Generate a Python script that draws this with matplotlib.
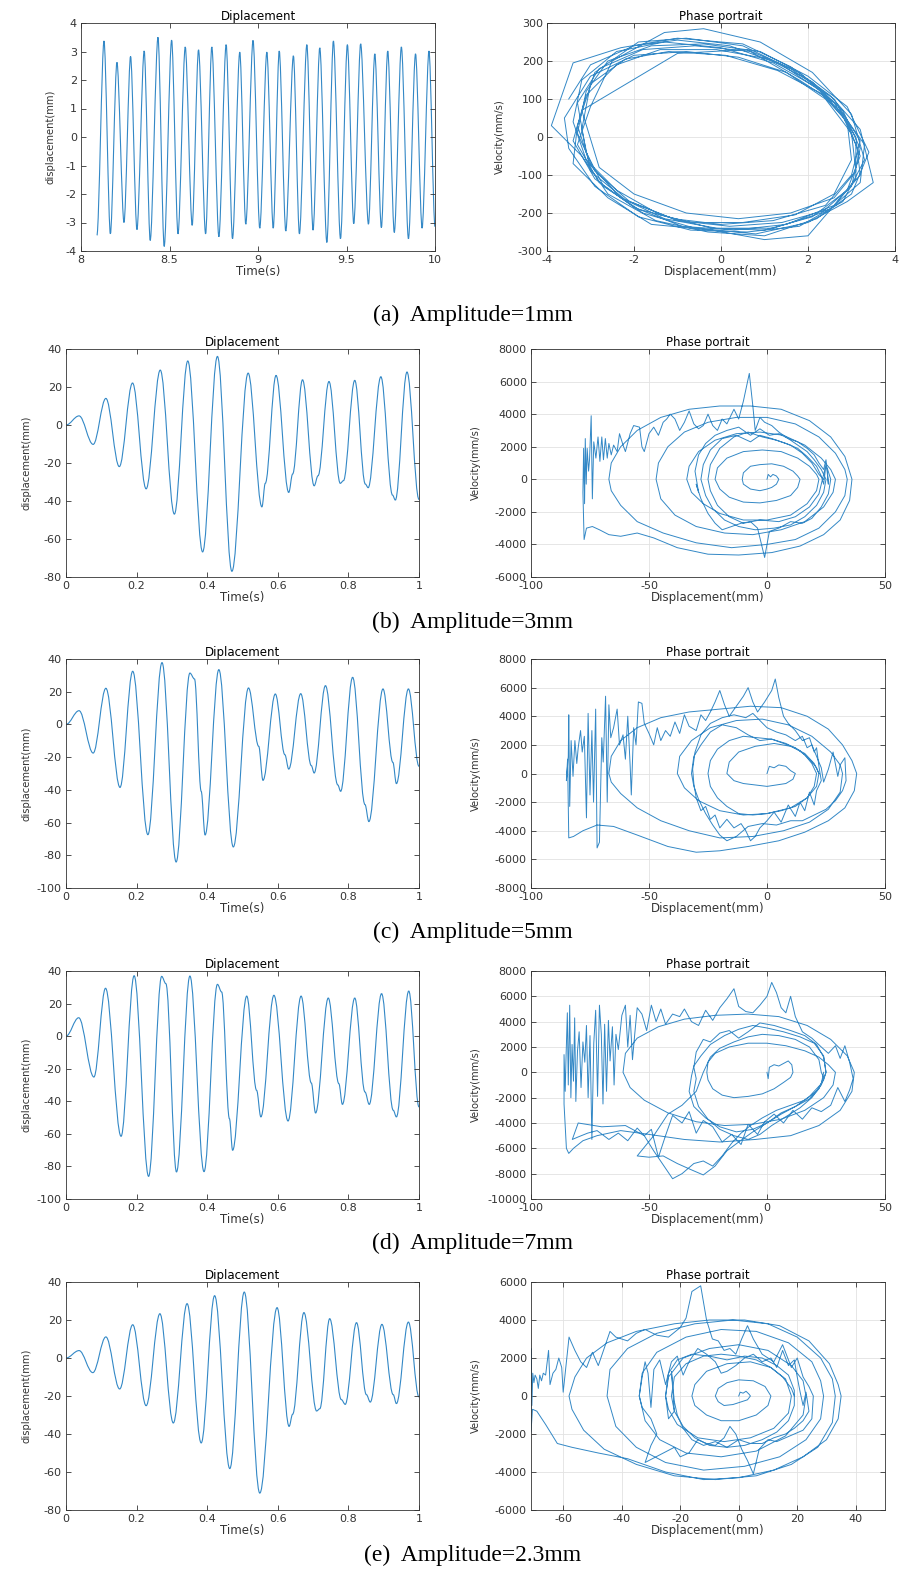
import numpy as np
import matplotlib
matplotlib.use('Agg')
import matplotlib.pyplot as plt
from matplotlib import ticker, font_manager
from matplotlib.font_manager import FontProperties
from matplotlib.path import Path
from matplotlib.patches import PathPatch

plt.rcParams['axes.unicode_minus'] = False

# ---- displacement time series: extrema (and shoulders) ----
a_t = [8.09, 8.13, 8.166, 8.203, 8.243, 8.28, 8.316, 8.357, 8.391, 8.435, 8.47, 8.512, 8.548,
       8.589, 8.628, 8.664, 8.704, 8.739, 8.779, 8.82, 8.856, 8.897, 8.931, 8.972, 9.01, 9.05,
       9.086, 9.12, 9.157, 9.2, 9.234, 9.276, 9.311, 9.349, 9.389, 9.426, 9.466, 9.505, 9.541,
       9.58, 9.624, 9.66, 9.697, 9.733, 9.77, 9.81, 9.85, 9.89, 9.927, 9.966, 10.0]
a_d = [-3.45, 3.37, -3.4, 2.62, -3.0, 2.83, -3.25, 3.02, -3.63, 3.5, -3.84, 3.4, -3.4,
       3.16, -3.1, 3.06, -3.4, 3.16, -3.5, 3.24, -3.57, 2.98, -3.06, 3.39, -3.2, 2.98,
       -3.2, 3.02, -3.3, 2.85, -3.4, 3.24, -3.27, 3.13, -3.7, 3.37, -3.57, 3.24, -3.04,
       3.27, -3.06, 2.92, -3.18, 3.02, -3.35, 3.16, -3.57, 2.92, -3.2, 3.02, -3.15]

b_t = [0.0, 0.037, 0.077, 0.113, 0.151, 0.1885, 0.227, 0.267, 0.307, 0.345, 0.387, 0.429,
       0.470, 0.516, 0.555, 0.5645, 0.595, 0.631, 0.642, 0.670, 0.703, 0.714, 0.745, 0.777,
       0.786, 0.818, 0.848, 0.856, 0.892, 0.925, 0.933, 0.966, 1.0]
b_d = [0.0, 4.8, -10.2, 14.0, -21.9, 22.1, -33.6, 28.9, -46.9, 33.7, -66.8, 36.1,
       -77.0, 27.3, -43.1, -30.7, 26.1, -35.5, -25.8, 23.8, -32.0, -26.7, 22.9, -30.7,
       -29.3, 23.5, -31.1, -33.0, 25.4, -36.9, -39.5, 27.9, -39.2]

c_t = [0.0, 0.037, 0.077, 0.113, 0.153, 0.189, 0.232, 0.272, 0.312, 0.351, 0.364, 0.383,
       0.394, 0.433, 0.474, 0.517, 0.546, 0.558, 0.593, 0.62, 0.631, 0.665, 0.695, 0.703,
       0.735, 0.77, 0.778, 0.812, 0.847, 0.858, 0.898, 0.926, 0.936, 0.970, 1.0]
c_d = [0.0, 8.4, -17.5, 22.1, -38.5, 32.5, -67.4, 37.8, -84.1, 31.4, 27.8, -40.9,
       -67.6, 33.5, -74.9, 22.3, -13.4, -34.2, 18.6, -18.5, -27.3, 18.8, -25.2, -29.7,
       23.7, -37.0, -40.9, 28.8, -49.0, -59.4, 21.7, -23.2, -36.2, 21.7, -25.6]

d_t = [0.0, 0.036, 0.079, 0.112, 0.156, 0.193, 0.234, 0.271, 0.283, 0.313, 0.351, 0.391,
       0.429, 0.441, 0.463, 0.472, 0.512, 0.54, 0.552, 0.589, 0.629, 0.666, 0.695, 0.707,
       0.743, 0.773, 0.783, 0.818, 0.847, 0.859, 0.894, 0.927, 0.936, 0.971, 1.0]
d_d = [0.0, 11.3, -25.1, 29.4, -61.5, 37.1, -86.1, 36.7, 32.2, -83.4, 36.9, -83.2,
       31.8, 27.1, -50.7, -70.1, 24.6, -33.3, -49.6, 25.1, -52.1, 24.6, -28.8, -47.2,
       23.4, -29.2, -41.9, 23.4, -34.3, -41.9, 26.1, -45.5, -49.6, 27.7, -43.5]

e_t = [0.0, 0.037, 0.076, 0.113, 0.152, 0.189, 0.227, 0.266, 0.304, 0.343, 0.383, 0.421,
       0.464, 0.505, 0.549, 0.598, 0.632, 0.642, 0.674, 0.710, 0.719, 0.747, 0.78, 0.791,
       0.823, 0.851, 0.862, 0.895, 0.927, 0.936, 0.970, 1.0]
e_d = [0.0, 3.9, -7.7, 11.1, -16.3, 17.5, -25.1, 23.3, -34.2, 28.6, -44.7, 32.8,
       -58.2, 34.7, -71.1, 26.5, -36.0, -29.6, 23.9, -27.9, -26.7, 20.7, -21.9, -24.4,
       18.6, -19.3, -23.2, 17.7, -19.3, -24.0, 18.9, -20.5]

# ---- phase portraits: (displacement mm, velocity mm/s) ----
pa = [(-3.5, 100), (-3.0, 190), (-2.0, 240), (-1.0, 255), (0.2, 240), (1.4, 190), (2.3, 120), (2.9, 40),
      (3.2, -50), (2.9, -140), (2.1, -210), (1.0, -245), (-0.2, -240), (-1.4, -205), (-2.4, -140), (-3.1, -60),
      (-3.4, 40), (-3.2, 150), (-2.4, 225), (-1.3, 250), (0.0, 235), (1.2, 195), (2.2, 130), (2.8, 60),
      (3.3, -20), (3.2, -120), (2.5, -190), (1.4, -225), (0.2, -235), (-1.0, -220), (-2.1, -170), (-2.9, -90),
      (-3.3, 10), (-3.1, 120), (-2.6, 200), (-1.6, 240), (-0.4, 245), (0.9, 225), (2.0, 160), (2.9, 80),
      (3.4, -40), (3.0, -150), (2.2, -215), (1.0, -260), (-0.3, -250), (-1.5, -220), (-2.6, -150), (-3.2, -50),
      (-3.9, 30), (-3.4, 195), (-2.3, 235), (-1.0, 260), (0.5, 245), (1.6, 185), (2.5, 110), (3.2, 20),
      (3.5, -120), (2.9, -170), (2.0, -225), (0.8, -255), (-0.6, -240), (-1.8, -200), (-2.8, -120), (-3.3, -20),
      (-3.0, 80), (-2.5, 200), (-1.3, 275), (-0.4, 285), (0.9, 250), (2.1, 170), (3.0, 60), (3.3, -60),
      (2.8, -170), (1.8, -235), (0.6, -250), (-0.7, -245), (-1.9, -210), (-2.9, -130), (-3.5, -30),
      (-3.6, 50), (-3.0, 160), (-2.0, 215), (-0.8, 225), (0.4, 210), (1.5, 170), (2.4, 100), (3.0, 10),
      (3.1, -90), (2.6, -160), (1.6, -200), (0.4, -215), (-0.8, -200), (-2.0, -150), (-2.8, -80),
      (-3.2, 70), (-1.0, 220), (0.6, 230), (1.8, 150), (2.6, 90), (3.1, 0), (3.2, -100), (2.0, -260),
      (1.0, -270), (-0.2, -245), (-1.6, -230), (-2.6, -160), (-3.4, -70),
      (-3.3, 30), (-2.9, 170), (-1.9, 250), (-0.8, 260), (0.5, 240), (1.6, 180), (2.6, 100), (3.2, -10),
      (3.0, -100), (2.4, -180), (1.2, -220), (0.0, -230), (-1.1, -215), (-2.2, -165), (-3.0, -90),
      (-3.2, 20), (-3.0, 140), (-2.2, 205), (-1.2, 225), (0.1, 215), (1.3, 175), (2.3, 115), (2.9, 40),
      (3.0, -60), (2.6, -150), (1.7, -205), (0.5, -225), (-0.7, -225), (-1.9, -190), (-2.7, -130), (-3.1, -40),
      (-3.3, 90), (-2.8, 180), (-1.8, 230), (-0.6, 240), (0.7, 225), (1.8, 170), (2.7, 80), (3.1, -20),
      (3.1, -110), (2.6, -180), (1.5, -230), (0.3, -245), (-0.9, -235), (-2.0, -185), (-2.9, -110), (-3.4, -10),
      (-3.1, 110), (-2.4, 190), (-1.4, 230), (-0.1, 230), (1.1, 205), (2.1, 145), (2.8, 70), (3.2, -30),
      (3.0, -130), (2.3, -200), (1.2, -240), (-0.1, -240), (-1.3, -215), (-2.3, -160), (-3.0, -75), (-3.3, 30)]

pb = [(0, 0), (0.5, 300), (1.5, 150), (2.5, 300), (4, 200), (5, 0), (4, -300), (2, -500), (0, -600), (-3, -700),
      (-7, -600), (-10, -300), (-10.5, 0), (-10, 400), (-7, 800), (-3, 900), (2, 950), (7, 800), (11, 500),
      (13, 200), (14, 0), (13, -500), (10, -1000), (4, -1300), (-3, -1450), (-10, -1400), (-16, -1100),
      (-20, -600), (-22, 0), (-21, 700), (-17, 1300), (-10, 1700), (-2, 1800), (6, 1700), (13, 1300),
      (18, 800), (21, 300), (22, 0), (21, -700), (17, -1500), (10, -2200), (0, -2500), (-10, -2500),
      (-20, -2100), (-27, -1500), (-32, -800), (-34, 0), (-33, 800), (-29, 1700), (-22, 2400), (-13, 2800),
      (-3, 2900), (7, 2700), (16, 2100), (23, 1300), (27, 600), (29, 0), (28, -800), (24, -1700), (16, -2600),
      (6, -3100), (-6, -3400), (-18, -3300), (-30, -2900), (-39, -2200), (-45, -1200), (-47, 0), (-46, 1000),
      (-42, 2000), (-35, 2900), (-25, 3500), (-13, 3800), (0, 3800), (12, 3400), (22, 2600), (29, 1600),
      (33, 600), (34, 0), (33, -1000), (29, -2000), (22, -3000), (12, -3700), (0, -4000), (-15, -4200),
      (-30, -3900), (-44, -3300), (-55, -2600), (-62, -1600), (-66, -700), (-67, 0), (-66, 1000), (-62, 2000),
      (-55, 3000), (-45, 3800), (-33, 4300), (-20, 4500), (-7, 4500), (6, 4300), (18, 3600), (27, 2600),
      (33, 1400), (36, 0), (35, -1300), (31, -2500), (24, -3400), (14, -4100), (2, -4500), (-12, -4650),
      (-25, -4600), (-38, -4200), (-48, -3600), (-55, -3300), (-62, -3500), (-67, -3400), (-71, -3100),
      (-74, -2900), (-76.5, -3000), (-77.5, -3700), (-78, -800), (-77.7, 1900), (-77.3, -1500), (-77, 2500),
      (-76.6, -300), (-76.2, 1900), (-75.6, 500), (-75.2, 1200), (-74.5, 3900), (-74, -1200), (-73.4, 2300),
      (-72.5, 1300), (-71.6, 2600), (-70.8, 1100), (-70, 2600), (-69.3, 1200), (-68.5, 2500), (-67.7, 1300),
      (-67, 2200), (-66, 1500), (-65, 2100), (-63.5, 1700), (-62.5, 2800), (-61, 2100), (-60, 1700),
      (-58, 2800), (-56.5, 3300), (-54, 3200), (-53, 2000), (-52, 1700), (-50, 2800), (-48, 3200), (-46, 2700),
      (-44, 3500), (-42.5, 3700), (-41, 4000), (-39, 3700), (-37, 3000), (-35, 3500), (-33, 4200), (-31, 3400),
      (-29, 3100), (-27, 3300), (-25, 4000), (-23, 3300), (-21, 3000), (-19, 3700), (-17, 3400), (-14, 4300),
      (-12, 3700), (-10, 4800), (-7.5, 6500), (-6, 4500), (-5, 3000), (-3, 3800), (-1, 3500), (2, 3300),
      (5, 2900), (9, 2500), (13, 2300), (17, 1900), (20, 1500), (22, 1000), (24, 600), (25, 1200), (26, -300),
      (25.5, 700), (27, 0), (26, -900), (23, -1700), (19, -2400), (15, -2700), (10, -2600), (5, -3000),
      (1, -3200), (-1, -4800), (-4, -3000), (-7, -2600), (-11, -2700), (-15, -2900), (-19, -3100), (-22, -2700),
      (-25, -2100), (-28, -1200), (-30, -300), (-29, -800), (-30.5, 500), (-29, 1500), (-26, 2200), (-22, 2700),
      (-17, 3000), (-12, 3200), (-7, 2700), (-3, 3100), (1, 2700), (5, 2800), (9, 2500), (13, 2100), (17, 1700),
      (20, 1200), (23, 600), (25, 0), (24, -800), (21, -1600), (16, -2300), (10, -2800), (3, -3000), (-5, -3100),
      (-12, -2900), (-18, -2500), (-23, -1800), (-26, -1000), (-28, 0), (-27, 900), (-24, 1800), (-19, 2500),
      (-13, 2700), (-7, 2300), (-3, 2700), (2, 2500), (8, 2200), (13, 1900), (17, 1400), (21, 800), (23, 200),
      (24, -300), (25, 900), (23.5, 0), (22, -900), (18, -1700), (12, -2300), (5, -2600), (-3, -2500),
      (-10, -2700), (-16, -2300), (-21, -1600), (-24, -700), (-25, 0), (-24, 900), (-20, 1900), (-14, 2600),
      (-8, 2900), (-2, 2600), (4, 2400), (10, 2100), (15, 1600), (19, 1000), (22, 300), (24, 0)]

pc = [(0, 0), (1, 500), (3, 400), (5, 600), (8, 500), (10, 200), (12, 0), (11, -400), (8, -700), (4, -800),
      (0, -900), (-5, -800), (-10, -700), (-14, -500), (-17, 0), (-16, 800), (-12, 1500), (-5, 1900), (3, 2100),
      (10, 1900), (16, 1400), (20, 700), (22, 0), (21, -900), (17, -1700), (10, -2400), (0, -2800), (-10, -2900),
      (-20, -2600), (-29, -1900), (-35, -1000), (-38, 0), (-37, 1200), (-32, 2300), (-24, 3200), (-13, 3700),
      (-2, 3800), (9, 3400), (19, 2600), (27, 1500), (31, 600), (32, 0), (31, -1300), (26, -2500), (18, -3400),
      (7, -4000), (-6, -4400), (-20, -4500), (-33, -4000), (-45, -3300), (-55, -2400), (-62, -1400), (-66, -600),
      (-67, 0), (-66, 1200), (-62, 2300), (-55, 3200), (-45, 3900), (-33, 4300), (-20, 4500), (-7, 4700),
      (6, 4600), (17, 4000), (26, 3100), (32, 2000), (36, 900), (38, 0), (37, -1200), (33, -2400), (26, -3300),
      (16, -4100), (5, -4700), (-8, -5100), (-20, -5400), (-30, -5500), (-42, -5100), (-55, -4300), (-65, -3700),
      (-72, -3600), (-78, -4000), (-82, -4400), (-84, -4500), (-84.5, 1000), (-85, -500), (-84.2, 1200),
      (-84, 4100), (-83.6, -2300), (-83, 2300), (-82.2, -200), (-81.4, 2300), (-80.6, 700), (-80, 1800),
      (-79, 3000), (-78.3, 1500), (-77.4, 2600), (-76.5, -3100), (-75.8, 4200), (-75, -1500), (-74.2, 3000),
      (-73.5, -2000), (-72.6, 4500), (-72, -5200), (-71, -4800), (-70, 2500), (-69.4, 800), (-68.4, 5400),
      (-67.7, -2000), (-67, 4800), (-66.2, 2500), (-65, 3200), (-63.5, 4500), (-62.5, 2000), (-61, 2700),
      (-60, 1000), (-59, 4000), (-58, 600), (-57.5, -1500), (-56.5, 3200), (-55.5, 2000), (-54.5, 5000),
      (-53, 4900), (-52, 3500), (-50, 2800), (-48, 2000), (-46.5, 3200), (-45, 2300), (-43, 3000), (-41, 2600),
      (-39, 3600), (-37, 2800), (-35, 4100), (-33, 3300), (-30, 3000), (-28, 4100), (-26, 3700), (-24, 4300),
      (-22, 5000), (-20, 5800), (-18, 4800), (-16, 4000), (-13, 4700), (-10, 5400), (-8, 6000), (-6, 5000),
      (-4, 4300), (-1, 5000), (2, 5800), (3.5, 6600), (5, 5300), (7, 4000), (9, 3500), (12, 3000), (15, 2300),
      (18, 2500), (20, 1500), (21, 1800), (22, 500), (23, -500), (21, -1200), (20, -2200), (18, -1300),
      (16, -2600), (14, -2000), (12, -3000), (9, -2200), (6, -3400), (3, -2700), (0, -3300), (-3, -3800),
      (-5, -4400), (-7, -4700), (-9, -4000), (-11, -3500), (-14, -3800), (-17, -3200), (-20, -3800),
      (-22, -2900), (-24, -3200), (-26, -2300), (-28, -2600), (-30, -1700), (-31, -700), (-31.5, 300),
      (-30.5, 1500), (-28, 2700), (-24, 3500), (-19, 3900), (-14, 4100), (-9, 3900), (-6, 4200), (-3, 3700),
      (0, 3200), (4, 2900), (8, 2700), (12, 2300), (15, 2600), (17, 1800), (19, 2000), (21, 1200), (23, 400),
      (24, -600), (26, 300), (28, 1500), (30, -200), (31, 600), (33, 1100), (33.5, -500), (32, -1200),
      (29, -1900), (25, -2500), (20, -2900), (15, -3300), (10, -3300), (4, -3600), (-2, -3500), (-8, -3700),
      (-13, -4400), (-17, -4700), (-20, -4300), (-23, -3600), (-26, -2800), (-29, -1800), (-31, -900),
      (-32, 0), (-31, 1200), (-28, 2000), (-24, 2900), (-19, 3400), (-13, 3200), (-8, 2700), (-3, 2300),
      (2, 2400), (7, 2100), (12, 1800), (16, 1300), (19, 700), (21, 0), (20, -900), (17, -1700), (12, -2300),
      (6, -2600), (0, -2800), (-6, -2900), (-12, -2800), (-17, -2300), (-21, -1700), (-24, -900), (-25, 0),
      (-24, 900), (-21, 1700), (-16, 2300), (-10, 2600), (-4, 2500), (2, 2400), (8, 2100), (14, 1600),
      (18, 1000), (21, 400), (22, 0)]

pd_ = [(0, 0), (0.5, -500), (1, 400), (3, 600), (5, 500), (7, 700), (9, 900), (10.5, 600), (11, 0), (10, -400),
       (7, -800), (3, -1300), (-2, -1700), (-8, -1900), (-14, -2000), (-19, -1800), (-23, -1300), (-25, -600),
       (-25.5, 0), (-25, 800), (-22, 1500), (-16, 2000), (-8, 2300), (0, 2300), (8, 2100), (16, 1700),
       (22, 1200), (26, 600), (29, 0), (28, -1000), (24, -2000), (16, -3000), (6, -3700), (-6, -4100),
       (-18, -4200), (-30, -3900), (-42, -3200), (-52, -2200), (-58, -1200), (-61, 0), (-60, 1500), (-55, 2700),
       (-46, 3600), (-35, 4200), (-22, 4500), (-8, 4600), (5, 4400), (17, 3700), (27, 2600), (34, 1300), (37, 0),
       (36, -1500), (31, -3000), (22, -4200), (10, -5000), (-5, -5300), (-20, -5500), (-35, -5300), (-50, -4900),
       (-62, -4600), (-72, -5000), (-78, -5400), (-82, -6000), (-84, -6400), (-85, -6000), (-86, -2500),
       (-86, 1400), (-85.5, -1500), (-85.2, 900), (-84.6, 4700), (-84.2, -1000), (-83.6, 5300), (-83.1, -2000),
       (-82.6, 2200), (-82, -700), (-81.5, 4300), (-81, -2300), (-80.3, 1700), (-79.6, 3200), (-78.8, -1200),
       (-78, 2400), (-77.2, 800), (-76.5, 3700), (-75.8, -2000), (-75, 2900), (-74.2, -5300), (-73.4, 2300),
       (-72.6, 4900), (-71.8, -1900), (-71, 5300), (-70.2, 3000), (-69.5, -2500), (-68.8, 3800), (-68, -1500),
       (-67.2, 4100), (-66.5, 900), (-65.5, 3600), (-64.8, -1000), (-64, 3000), (-63, 1800), (-61.5, 4500),
       (-60, 5300), (-59, 2000), (-58, 4500), (-57, 1000), (-56, 3100), (-55, 5100), (-53, 4600), (-51, 3300),
       (-49, 5300), (-47, 4000), (-45, 5000), (-43, 3800), (-40, 4600), (-37, 4400), (-35, 5000), (-32, 4000),
       (-29, 3700), (-26, 4900), (-23, 4100), (-20, 5100), (-17, 5800), (-14, 6600), (-12, 5200), (-9, 4800),
       (-6, 4700), (-3, 5300), (0, 6000), (2, 7100), (4, 6300), (6, 5100), (8, 4700), (10, 6000), (12, 4400),
       (15, 3200), (19, 2700), (23, 2000), (26, 1500), (29, 2100), (31, 1100), (33, 2100), (35, 800),
       (36.5, -500), (35, -1400), (33, -2300), (30, -1200), (27, -2600), (23, -3100), (19, -2800), (15, -3700),
       (11, -3000), (7, -4000), (3, -3300), (-1, -3900), (-4, -4900), (-8, -4100), (-11, -5700), (-15, -4900),
       (-19, -5500), (-23, -4300), (-27, -3800), (-30, -4800), (-33, -3100), (-36, -4000), (-40, -3400),
       (-43, -5000), (-46, -6700), (-49, -4500), (-52, -5000), (-55, -4400), (-59, -5400), (-63, -4800),
       (-67, -5300), (-72, -4600), (-76, -4800), (-80, -5100), (-82.5, -5300), (-80, -4000), (-70, -4300),
       (-60, -4200), (-52, -5000), (-48, -6200), (-44, -7300), (-40, -8400), (-36, -8000), (-31, -7200),
       (-27, -7000), (-23, -7400), (-19, -6600), (-15, -5600), (-11, -4800), (-7, -4200), (-2, -3600),
       (4, -3000), (10, -2600), (16, -2200), (21, -1500), (24, -600), (25, 0), (24, 1200), (21, 2200),
       (16, 2900), (10, 3300), (3, 3700), (-3, 3900), (-8, 3200), (-12, 2700), (-16, 3300), (-20, 3100),
       (-24, 2400), (-27, 2600), (-30, 1600), (-31, 400), (-30, -500), (-31, -1500), (-29, -2700), (-25, -3700),
       (-20, -4500), (-14, -5000), (-8, -5300), (-3, -4900), (2, -4200), (8, -3500), (14, -2800), (19, -2000),
       (23, -1000), (25, 0), (24, 1300), (20, 2300), (14, 2800), (7, 3200), (0, 3500), (-6, 3700), (-12, 3400),
       (-18, 2900), (-24, 2200), (-28, 1300), (-31, 500), (-32, -300), (-33, -1500), (-31, -2700), (-26, -3600),
       (-20, -4300), (-13, -4700), (-6, -4500), (0, -4000), (6, -3300), (12, -2700), (18, -2100), (22, -1300),
       (24, -400), (23, 0), (22, 1000), (18, 2000), (12, 2600), (5, 2900), (-2, 3000), (-8, 2800), (-14, 2400),
       (-20, 1900), (-24, 1200), (-27, 0), (-30, -1500), (-36, -2600), (-42, -3300), (-48, -5000), (-55, -6600),
       (-50, -6700), (-44, -6600), (-38, -7200), (-32, -7700), (-27, -8100), (-22, -7400), (-17, -6200),
       (-12, -5500), (-6, -4700), (0, -4000), (6, -3200), (12, -2700), (18, -1900), (23, -900), (24, 0)]

pe = [(0, 0), (0.5, 200), (1.5, 150), (2.5, 250), (3.5, 100), (4, 0), (3, -200), (1, -300), (-2, -450),
      (-5, -500), (-7, -300), (-8, 0), (-7, 400), (-4, 700), (0, 850), (5, 800), (9, 500), (11, 0), (10, -500),
      (6, -1000), (0, -1300), (-6, -1300), (-11, -1000), (-15, -500), (-16, 0), (-15, 600), (-11, 1300),
      (-4, 1700), (4, 1800), (11, 1500), (16, 900), (18, 0), (17, -900), (12, -1700), (4, -2200), (-5, -2400),
      (-14, -2200), (-21, -1500), (-24, -700), (-25, 0), (-24, 1000), (-19, 2000), (-10, 2500), (0, 2700),
      (10, 2400), (18, 1600), (22, 800), (23, 0), (22, -1000), (16, -2100), (6, -2900), (-6, -3200),
      (-18, -3000), (-27, -2300), (-32, -1300), (-34, 0), (-33, 1200), (-28, 2300), (-18, 3100), (-6, 3500),
      (6, 3400), (17, 2800), (25, 1800), (28, 800), (29, 0), (28, -1200), (23, -2300), (14, -3200), (2, -3700),
      (-12, -3900), (-25, -3500), (-35, -2700), (-42, -1600), (-45, 0), (-44, 1400), (-38, 2500), (-28, 3300),
      (-15, 3800), (-2, 4000), (10, 3800), (20, 3100), (28, 2000), (32, 900), (33, 0), (32, -1400), (27, -2700),
      (18, -3600), (6, -4200), (-8, -4400), (-22, -4200), (-35, -3600), (-46, -2800), (-53, -1800), (-57, -700),
      (-58, 0), (-56, 1000), (-52, 2000), (-45, 2800), (-35, 3400), (-22, 3800), (-10, 4000), (2, 4000),
      (14, 3700), (24, 2900), (31, 1700), (34, 600), (35, 0), (34, -1200), (30, -2300), (22, -3200), (12, -3900),
      (0, -4300), (-12, -4400), (-25, -4000), (-38, -3300), (-48, -3000), (-57, -2700), (-62, -2500),
      (-66, -1500), (-69, -800), (-70.5, -700), (-71, -1900), (-71, 2500), (-70.7, -500), (-70.4, 1200),
      (-70, 700), (-69.6, 1100), (-69, 900), (-68.5, 400), (-68, 1100), (-67.4, 800), (-66.8, 1200),
      (-66, 1100), (-65, 2400), (-64.5, 600), (-63.5, 1200), (-62.5, 1400), (-61.5, 2000), (-60.5, 1500),
      (-60, 200), (-58, 3100), (-56, 2400), (-54, 1800), (-52, 1500), (-50, 2300), (-48, 1600), (-46, 2500),
      (-44, 3400), (-42, 3100), (-38, 2900), (-35, 3300), (-32, 3500), (-28, 3200), (-24, 3100), (-20, 3600),
      (-18, 4100), (-16, 5500), (-13, 5800), (-11, 4000), (-9, 3000), (-7, 2900), (-5, 2400), (-3, 2500),
      (-1, 2200), (1, 3000), (3, 3700), (5, 3000), (8, 2200), (12, 1800), (15, 2700), (18, 1500), (20, 2000),
      (22, 1000), (24, 500), (25.5, 0), (25, -1200), (22, -1800), (19, -2000), (16, -2200), (13, -2400),
      (10, -2300), (7, -2800), (5, -4100), (3, -3400), (1, -2800), (-1, -2000), (-3, -1600), (-5, -2200),
      (-8, -2600), (-11, -2500), (-14, -2300), (-17, -3000), (-20, -3200), (-22, -2700), (-27, -3100),
      (-32, -3500), (-30, -2600), (-28, -2000), (-30, -1200), (-33, -600), (-34, 0), (-33, 1000), (-32, 1800),
      (-31, 1200), (-30, -600), (-29, 1400), (-27, 1900), (-25, 600), (-23, 1800), (-21, 2100), (-19, 1100),
      (-17, 1800), (-14, 2500), (-11, 2200), (-8, 1800), (-6, 1200), (-4, 1300), (-1, 1600), (2, 2000),
      (5, 2200), (8, 1800), (11, 2000), (13, 1500), (15, 2400), (17, 1600), (19, 1900), (20, 1000), (21, 200),
      (22, -500), (23, 200), (24, -800), (22, -1300), (19, -1700), (16, -2000), (12, -2200), (8, -2500),
      (4, -2500), (0, -2300), (-4, -2700), (-8, -2400), (-12, -2600), (-16, -2300), (-19, -1700), (-21, -1000),
      (-22, -300), (-23, 1300), (-22, -800), (-24, -1200), (-25, 0), (-24, 1200), (-21, 1900), (-16, 2200),
      (-10, 2100), (-4, 1900), (2, 2100), (8, 2000), (13, 1600), (17, 1100), (19, 300), (19, -500),
      (17, -1300), (13, -1900), (8, -2300), (2, -2600), (-4, -2700), (-10, -2600), (-15, -2200), (-19, -1600),
      (-22, -800), (-23, 0), (-22, 1000), (-18, 1700), (-12, 2100), (-6, 2200), (0, 2100), (6, 1900),
      (11, 1500), (15, 1000), (18, 400), (19, 0)]

captions = ['(a)  Amplitude=1mm', '(b)  Amplitude=3mm', '(c)  Amplitude=5mm',
            '(d)  Amplitude=7mm', '(e)  Amplitude=2.3mm']

LINE = '#3388c6'
DARK = '#333333'
W, H = 902, 1573

# a condensed face for the y labels if one is installed
ylab_font = FontProperties(family='DejaVu Sans', size=7)
for f in font_manager.fontManager.ttflist:
    if (('Narrow' in f.name or 'Condensed' in f.name or f.stretch in ('condensed', 'semi-condensed'))
            and f.style == 'normal' and f.weight in (400, 'normal', 'regular')):
        ylab_font = FontProperties(fname=f.fname, size=8)
        break

installed = {f.name for f in font_manager.fontManager.ttflist}
serif = 'Liberation Serif' if 'Liberation Serif' in installed else 'DejaVu Serif'

fig = plt.figure(figsize=(W / 100, H / 100), dpi=100)


def px_axes(left, top, right, bottom):
    return fig.add_axes([left / W, 1 - bottom / H, (right - left) / W, (bottom - top) / H])


def smooth_path(t, d, k):
    # cubic segments with flat tangents at each read extremum
    verts = [(t[0], d[0])]
    codes = [Path.MOVETO]
    for i in range(len(t) - 1):
        dt = t[i + 1] - t[i]
        verts += [(t[i] + k * dt, d[i]), (t[i + 1] - k * dt, d[i + 1]), (t[i + 1], d[i + 1])]
        codes += [Path.CURVE4] * 3
    return Path(verts, codes)


def style(ax, xlim, ylim, xticks, yticks, title, xlabel, ylabel, grid, lab_x):
    ax.set_xlim(xlim)
    ax.set_ylim(ylim)
    ax.set_xticks(xticks)
    ax.set_yticks(yticks)
    ax.xaxis.set_major_formatter(ticker.FormatStrFormatter('%g'))
    ax.yaxis.set_major_formatter(ticker.FormatStrFormatter('%g'))
    ax.tick_params(direction='in', length=3.5, width=0.6, top=True, right=True,
                   labelsize=8, colors=DARK, pad=3)
    for s in ax.spines.values():
        s.set_linewidth(0.6)
        s.set_color(DARK)
    if grid:
        ax.grid(True, color='#e2e2e2', lw=0.6)
        ax.set_axisbelow(True)
    ax.set_title(title, fontsize=8.5, pad=2, color='black')
    ax.set_xlabel(xlabel, fontsize=8.5, color=DARK)
    ax.xaxis.set_label_coords(0.5, -0.062)
    ax.set_ylabel(ylabel, fontproperties=ylab_font, color=DARK)
    ax.yaxis.set_label_coords(lab_x, 0.5)


def disp_panel(ax, t, d, k):
    ax.add_patch(PathPatch(smooth_path(t, d, k), fill=False, edgecolor=LINE, lw=0.8))


def phase_panel(ax, pts):
    x, v = np.array(pts, dtype=float).T
    ax.plot(x, v, color=LINE, lw=0.7)


rows = [(23, 251), (349, 577), (659, 888), (971, 1199), (1282, 1510)]
cap_y = [315, 622, 932, 1243, 1555]

# row (a)
ax = px_axes(81, 23, 435, 251)
disp_panel(ax, a_t, a_d, 0.3)
style(ax, (8, 10), (-4, 4), [8, 8.5, 9, 9.5, 10], range(-4, 5), 'Diplacement', 'Time(s)',
      'displacement(mm)', False, -0.071)
ax = px_axes(547, 23, 895, 251)
phase_panel(ax, pa)
style(ax, (-4, 4), (-300, 300), range(-4, 5, 2), range(-300, 301, 100), 'Phase portrait',
      'Displacement(mm)', 'Velocity(mm/s)', True, -0.12)

series = [(b_t, b_d, (-80, 40), pb, (-100, 50), (-6000, 8000), range(-100, 51, 50)),
          (c_t, c_d, (-100, 40), pc, (-100, 50), (-8000, 8000), range(-100, 51, 50)),
          (d_t, d_d, (-100, 40), pd_, (-100, 50), (-10000, 8000), range(-100, 51, 50)),
          (e_t, e_d, (-80, 40), pe, (-71, 50), (-6000, 6000), range(-60, 41, 20))]

for (top, bot), (t, d, dl, pts, pxl, pyl, pxt) in zip(rows[1:], series):
    ax = px_axes(66, top, 419, bot)
    disp_panel(ax, t, d, 0.36)
    style(ax, (0, 1), dl, np.round(np.arange(0, 1.01, 0.2), 1), range(dl[0], dl[1] + 1, 20),
          'Diplacement', 'Time(s)', 'displacement(mm)', False, -0.099)
    ax = px_axes(531, top, 885, bot)
    phase_panel(ax, pts)
    style(ax, pxl, pyl, pxt, range(pyl[0], pyl[1] + 1, 2000), 'Phase portrait',
          'Displacement(mm)', 'Velocity(mm/s)', True, -0.141)

for cap, y in zip(captions, cap_y):
    fig.text(473 / W, 1 - y / H, cap, ha='center', va='center', fontsize=17, family=serif)

fig.savefig('out.png', dpi=100)
